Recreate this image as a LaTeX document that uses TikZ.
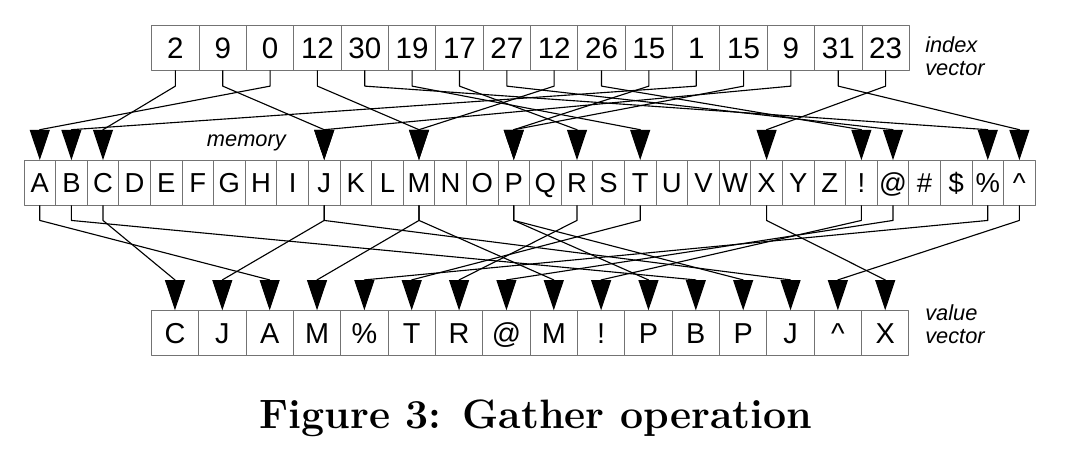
\documentclass[tikz,border=0pt]{standalone}
\usepackage{fontspec}
\newfontfamily\arial{Liberation Sans}
\usetikzlibrary{arrows.meta}
\tikzset{>={Triangle[length=21.5pt,width=14.2pt]}}

\begin{document}
\begin{tikzpicture}[x=0.025cm, y=0.025cm, line join = round,
    idxcell/.style = {draw = black!55, line width = 0.6pt, inner sep = 0pt,
        minimum width = 33.68pt, minimum height = 31.5pt, text height = 15pt, text depth = 0pt,
        font = \arial\fontsize{21}{21}\selectfont},
    memcell/.style = {draw = black!55, line width = 0.6pt, inner sep = 0pt,
        minimum width = 22.48pt, minimum height = 31.65pt, text height = 14pt, text depth = 0pt,
        font = \arial\fontsize{19.5}{19.5}\selectfont},
    valcell/.style = {idxcell, text height = 14.7pt, font = \arial\fontsize{20.5}{20.5}\selectfont},
    tag/.style = {font = \arial\itshape\fontsize{15.5}{16.5}\selectfont, align = left, inner sep = 0pt},
    wire/.style = {->, line width = 0.8pt}]
    \useasboundingbox (0,0) rectangle (1080,-462);

    % index vector, memory, value vector
    \foreach \v [count=\i from 0] in {2,9,0,12,30,19,17,27,12,26,15,1,15,9,31,23}
        \node[idxcell] (i\i) at ({151.7+47.35*(\i+0.5)},-47.85) {\v};
    \foreach \l [count=\i from 0] in {A,B,C,D,E,F,G,H,I,J,K,L,M,N,O,P,Q,R,S,T,U,V,W,X,Y,Z,!,@,\#,\$,\%,\textasciicircum}
        \node[memcell] (m\i) at ({24+31.6*(\i+0.5)},-182.75) {\l};
    \foreach \l [count=\i from 0] in {C,J,A,M,\%,T,R,@,M,!,P,B,P,J,\textasciicircum,X}
        \node[valcell] (v\i) at ({151.3+47.35*(\i+0.5)},-332.85) {\l};

    \node[tag, anchor = west] (idxtag) at (925,-56) {index\\vector};
    \node[tag, anchor = base west] (memtag) at (206.7,-146.7) {memory};
    \node[tag, anchor = west] (valtag) at (925,-324) {value\\vector};

    % gather: index -> memory -> value
    \foreach \s/\t in {0/2,1/9,2/0,3/12,4/30,5/19,6/17,7/27,8/12,9/26,10/15,11/1,12/15,13/9,14/31,15/23}{
        \draw[wire] (i\s.south) -- ++(0,-15.7) -- ([yshift=21.6pt]m\t.north) -- (m\t.north);
        \draw[wire] (m\t.south) -- ++(0,-15) -- ([yshift=21.6pt]v\s.north) -- (v\s.north);
    }

    \node[font = \bfseries\fontsize{29.2}{32}\selectfont, anchor = base] (caption) at (536,-428) {Figure 3: Gather operation};
\end{tikzpicture}
\end{document}
